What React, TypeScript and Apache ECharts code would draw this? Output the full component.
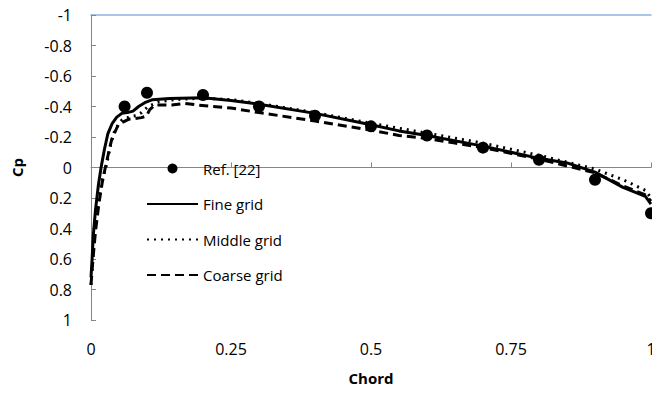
import React, { useEffect, useRef } from "react";
import * as echarts from "echarts";

const refX = [0.06, 0.1, 0.2, 0.3, 0.4, 0.5, 0.6, 0.7, 0.8, 0.9, 1.0];
const refCp = [-0.4, -0.49, -0.475, -0.4, -0.34, -0.27, -0.21, -0.13, -0.05, 0.08, 0.3];

const fineX = [0, 0.002, 0.004, 0.008, 0.013, 0.018, 0.024, 0.03, 0.038, 0.046, 0.055, 0.065, 0.075, 0.085, 0.096, 0.11, 0.14, 0.2, 0.25, 0.3, 0.4, 0.5, 0.55, 0.6, 0.7, 0.8, 0.85, 0.9, 0.95, 0.99, 1.0];
const fineCp = [0.72, 0.6, 0.45, 0.28, 0.12, 0, -0.12, -0.22, -0.29, -0.33, -0.355, -0.36, -0.37, -0.4, -0.425, -0.445, -0.453, -0.458, -0.44, -0.415, -0.355, -0.28, -0.24, -0.21, -0.14, -0.06, -0.03, 0.03, 0.13, 0.19, 0.24];

const middleX = [0, 0.004, 0.008, 0.014, 0.02, 0.028, 0.035, 0.043, 0.055, 0.07, 0.08, 0.09, 0.102, 0.12, 0.15, 0.2, 0.25, 0.3, 0.4, 0.5, 0.6, 0.7, 0.8, 0.9, 0.95, 0.99, 1.0];
const middleCp = [0.77, 0.55, 0.38, 0.2, 0.08, -0.02, -0.15, -0.25, -0.31, -0.335, -0.34, -0.36, -0.4, -0.43, -0.445, -0.455, -0.445, -0.42, -0.36, -0.29, -0.225, -0.16, -0.08, 0.01, 0.08, 0.15, 0.2];

const coarseX = [0, 0.004, 0.008, 0.014, 0.02, 0.025, 0.031, 0.037, 0.049, 0.067, 0.09, 0.099, 0.105, 0.114, 0.144, 0.168, 0.19, 0.25, 0.3, 0.4, 0.5, 0.55, 0.6, 0.65, 0.7, 0.8, 0.9, 0.95, 0.99, 1.0];
const coarseCp = [0.77, 0.58, 0.42, 0.24, 0.1, 0.01, -0.09, -0.185, -0.283, -0.316, -0.327, -0.337, -0.38, -0.41, -0.41, -0.42, -0.41, -0.39, -0.36, -0.305, -0.245, -0.21, -0.19, -0.16, -0.13, -0.055, 0.035, 0.12, 0.18, 0.22];

const seriesNames = ["Ref. [22]", "Fine grid", "Middle grid", "Coarse grid"];

const zip = (xs: number[], ys: number[]) => xs.map((x, i) => [x, ys[i]]);

const FONT = "'Open Sans', sans-serif";

export default function App() {
  const ref = useRef<HTMLDivElement>(null);
  useEffect(() => {
    document.body.style.margin = "0";
    const chart = echarts.init(ref.current!, null, { renderer: "svg" });
    const axisColor = "#868686";
    chart.setOption({
      animation: false,
      backgroundColor: "#ffffff",
      textStyle: { fontFamily: FONT },
      grid: { left: 91, right: 1, top: 15, bottom: 74, containLabel: false, outerBoundsMode: "none" },
      legend: {
        orient: "vertical",
        left: 146,
        top: 161,
        padding: 0,
        itemWidth: 51,
        itemHeight: 10,
        itemGap: 20.5,
        textStyle: { fontFamily: FONT, fontSize: 15, color: "#000", lineHeight: 14 },
        data: [
          { name: seriesNames[0], itemStyle: { color: "#000", opacity: 1 } },
          { name: seriesNames[1], itemStyle: { opacity: 0 } },
          { name: seriesNames[2], itemStyle: { opacity: 0 } },
          { name: seriesNames[3], itemStyle: { opacity: 0 } },
        ],
      },
      xAxis: [
        {
          type: "value",
          min: 0,
          max: 1,
          interval: 0.25,
          name: "Chord",
          nameLocation: "middle",
          nameGap: 50,
          nameTextStyle: { fontFamily: FONT, fontSize: 15, fontWeight: "bold", color: "#000" },
          axisLine: { show: true, lineStyle: { color: axisColor, width: 1 } },
          axisTick: { show: true, inside: true, length: 5, lineStyle: { color: axisColor } },
          axisLabel: { fontFamily: FONT, fontSize: 16, color: "#000", margin: 21 },
          splitLine: { show: false },
        },
        {
          type: "value",
          position: "top",
          min: 0,
          max: 1,
          axisLine: { show: true, lineStyle: { color: "#8db3e2", width: 1.5 } },
          axisTick: { show: false },
          axisLabel: { show: false },
          splitLine: { show: false },
        },
      ],
      yAxis: {
        type: "value",
        inverse: true,
        min: -1,
        max: 1,
        interval: 0.2,
        name: "Cp",
        nameLocation: "middle",
        nameGap: 67,
        nameRotate: 90,
        nameTextStyle: { fontFamily: FONT, fontSize: 15, fontWeight: "bold", color: "#000" },
        axisLine: { show: true, lineStyle: { color: axisColor, width: 1 } },
        axisTick: { show: true, inside: true, length: 5, lineStyle: { color: axisColor } },
        axisLabel: {
          fontFamily: FONT,
          fontSize: 16,
          color: "#000",
          margin: 19,
          formatter: (v: number) => String(Math.round(v * 10) / 10),
        },
        splitLine: { show: false },
      },
      series: [
        {
          name: seriesNames[1],
          type: "line",
          data: zip(fineX, fineCp),
          symbol: "none",
          lineStyle: { color: "#000", width: 3, type: "solid" },
          itemStyle: { color: "#000" },
        },
        {
          name: seriesNames[2],
          type: "line",
          data: zip(middleX, middleCp),
          symbol: "none",
          lineStyle: { color: "#000", width: 3, type: [2, 5] },
          itemStyle: { color: "#000" },
        },
        {
          name: seriesNames[3],
          type: "line",
          data: zip(coarseX, coarseCp),
          symbol: "none",
          lineStyle: { color: "#000", width: 3, type: [9, 5] },
          itemStyle: { color: "#000" },
        },
        {
          name: seriesNames[0],
          type: "scatter",
          data: zip(refX, refCp),
          symbol: "circle",
          symbolSize: 12,
          itemStyle: { color: "#000", opacity: 1 },
          clip: false,
        },
      ],
    });
    return () => chart.dispose();
  }, []);
  return (
    <div
      ref={ref}
      style={{ position: "absolute", left: 0, top: 0, width: 652, height: 394 }}
    />
  );
}
